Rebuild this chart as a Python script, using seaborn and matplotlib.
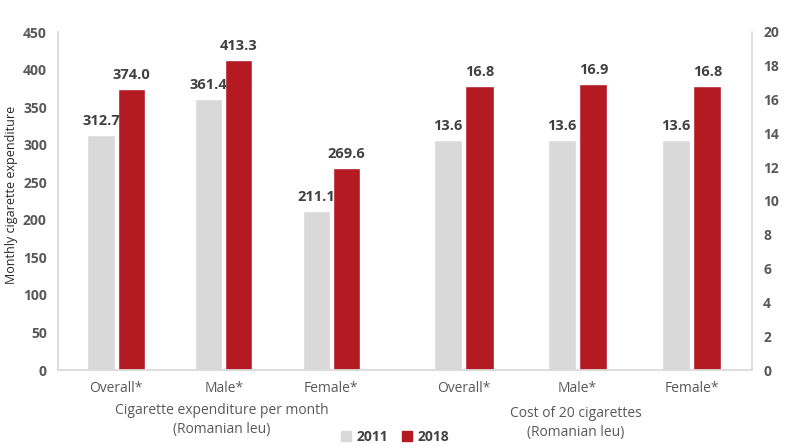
import pandas as pd
import matplotlib.pyplot as plt
import seaborn as sns

# === Data ===
groups = ["Overall*", "Male*", "Female*"]
years = ["2011", "2018"]
expenditure_2011 = [312.7, 361.4, 211.1]
expenditure_2018 = [374.0, 413.3, 269.6]
cost_2011 = [13.6, 13.6, 13.6]
cost_2018 = [16.8, 16.9, 16.8]

palette = {"2011": "#D9D9D9", "2018": "#B31A22"}
grey_txt = "#595959"
label_txt = "#404040"
spine_col = "#D9D9D9"


def _long(v11, v18):
    rows = []
    for g, a, b in zip(groups, v11, v18):
        rows.append({"group": g, "year": "2011", "value": a})
        rows.append({"group": g, "year": "2018", "value": b})
    return pd.DataFrame(rows)


df_exp = _long(expenditure_2011, expenditure_2018)
df_cost = _long(cost_2011, cost_2018)

sns.set_theme(style="white")
plt.rcParams["font.family"] = ["Open Sans", "DejaVu Sans"]

W, H = 785, 446
fig = plt.figure(figsize=(W / 100, H / 100), dpi=100)


def px_axes(x0, x1, y_top, y_bot):
    return fig.add_axes([x0 / W, 1 - y_bot / H, (x1 - x0) / W, (y_bot - y_top) / H])


ax1 = px_axes(58, 384, 32, 370)
ax2 = px_axes(384, 752, 32, 370)

sns.barplot(data=df_exp, x="group", y="value", hue="year", hue_order=years,
            palette=palette, width=0.56, gap=0.1, ax=ax1, legend=False,
            saturation=1)
sns.barplot(data=df_cost, x="group", y="value", hue="year", hue_order=years,
            palette=palette, width=0.55, gap=0.1, ax=ax2, legend=False,
            saturation=1)

ax1.set_ylim(0, 450)
ax1.set_yticks(range(0, 451, 50))
ax1.set_xlim(-0.54, 2.49)
ax2.set_ylim(0, 20)
ax2.set_yticks(range(0, 21, 2))
ax2.set_xlim(-0.70, 2.53)
ax2.yaxis.tick_right()

for ax in (ax1, ax2):
    ax.set_xlabel("")
    ax.set_ylabel("")
    for c in ax.containers:
        ax.bar_label(c, fmt="%.1f", padding=5, fontsize=10.5, fontweight="bold",
                     color=label_txt)
    ax.tick_params(axis="y", labelsize=10, colors=grey_txt, length=0, pad=8)
    ax.tick_params(axis="x", labelsize=10, colors=grey_txt, length=0, pad=8)
    for lab in ax.get_yticklabels():
        lab.set_fontweight("bold")
    for s in ax.spines.values():
        s.set_visible(False)
    ax.spines["bottom"].set_visible(True)
    ax.spines["bottom"].set_color(spine_col)
    ax.patch.set_alpha(0)

ax1.spines["left"].set_visible(True)
ax1.spines["left"].set_color(spine_col)
ax2.spines["right"].set_visible(True)
ax2.spines["right"].set_color(spine_col)

fig.text(12 / W, 1 - 195 / H, "Monthly cigarette expenditure", rotation=90,
         ha="center", va="center", fontsize=9, color="#262626")

fig.text(222 / W, 1 - 420 / H, "Cigarette expenditure per month\n(Romanian leu)",
         ha="center", va="center", fontsize=10, color=grey_txt, linespacing=1.3)
fig.text(576 / W, 1 - 423 / H, "Cost of 20 cigarettes\n(Romanian leu)",
         ha="center", va="center", fontsize=10, color=grey_txt, linespacing=1.3)

handles = [plt.Rectangle((0, 0), 1, 1, color=palette[y]) for y in years]
leg = fig.legend(handles, years, loc="center", bbox_to_anchor=(395 / W, 1 - 437 / H),
                 ncol=2, frameon=False, handlelength=0.7, handleheight=0.7,
                 handletextpad=0.4, columnspacing=1.0,
                 prop={"size": 10, "weight": "bold"})
for t in leg.get_texts():
    t.set_color(label_txt)

plt.savefig("out.png", dpi=100)
